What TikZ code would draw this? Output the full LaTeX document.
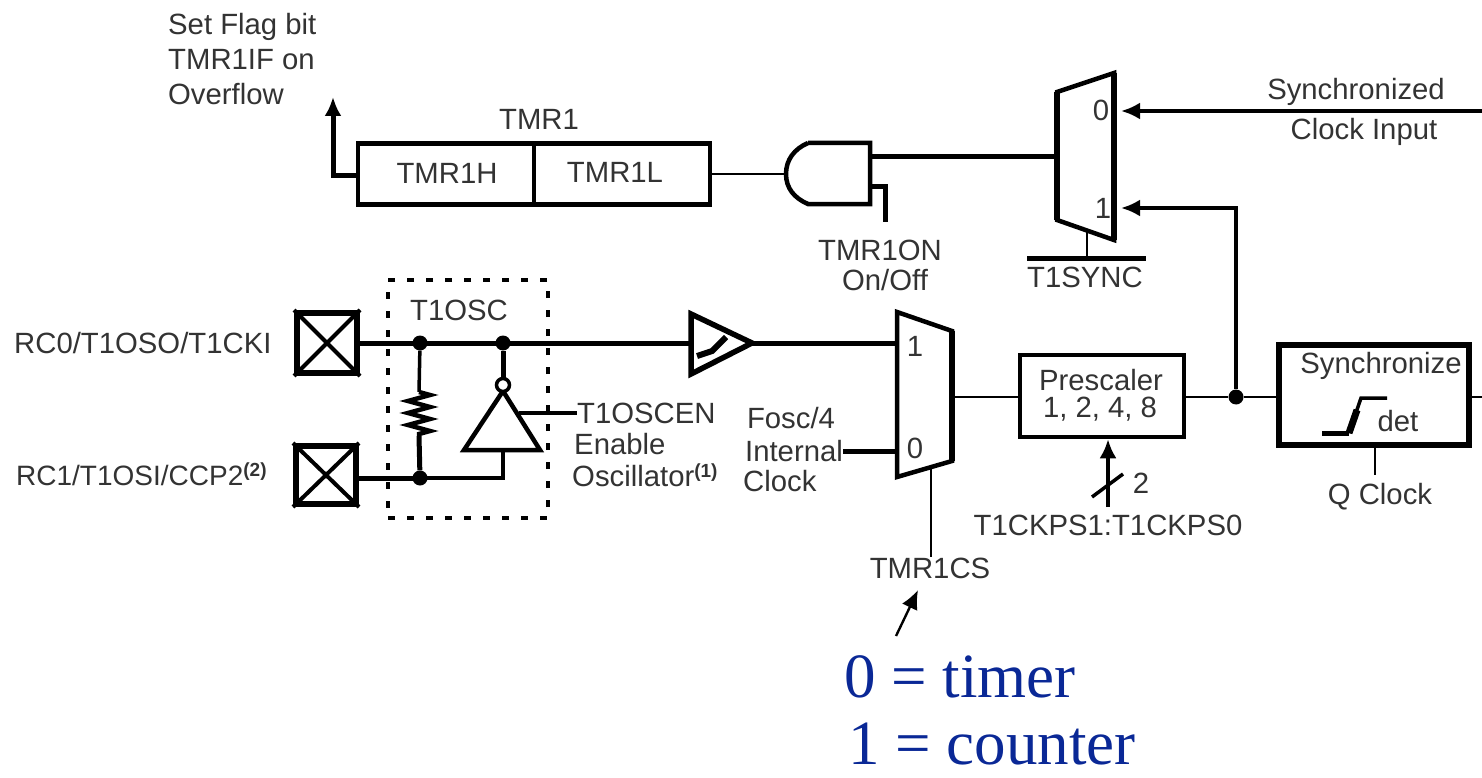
\documentclass[tikz,border=0pt]{standalone}
\usepackage{fontspec}
\setmainfont{Liberation Sans}
\newfontfamily\serifblue{Liberation Serif}
\usetikzlibrary{arrows.meta,decorations.pathmorphing}
\definecolor{labelgray}{gray}{0.2}
\definecolor{noteblue}{RGB}{10,40,150}
\newcommand{\supmark}[1]{\raisebox{9pt}{\fontsize{19}{19}\selectfont\bfseries(#1)}}
\tikzset{
  lbl/.style={inner sep=0pt,text=labelgray,font=\fontsize{29.3}{29.3}\selectfont},
  note/.style={inner sep=0pt,anchor=base west,text=noteblue,font=\serifblue\fontsize{63}{63}\selectfont},
  thick wire/.style={line width=5pt},
  mid wire/.style={line width=3.5pt},
  thin wire/.style={line width=2.4pt},
  boxthick/.style={draw,line width=4.5pt,inner sep=0pt},
  pt/.style={circle,fill=black,inner sep=0pt,minimum size=15pt},
  tip/.style={-{Latex[length=19pt,width=17pt]}}
}
\begin{document}
\begin{tikzpicture}[x=1pt,y=-1pt]
\useasboundingbox (0,0) rectangle (1482,778);
% pads
\node[boxthick,line width=6pt,minimum width=60pt,minimum height=60pt] (pad0) at (327,343) {};
\node[boxthick,line width=6pt,minimum width=60pt,minimum height=58pt] (pad1) at (326,475) {};
\draw[line width=4pt] (pad0.north west)--(pad0.south east) (pad0.north east)--(pad0.south west);
\draw[line width=4pt] (pad1.north west)--(pad1.south east) (pad1.north east)--(pad1.south west);
\node[lbl,anchor=west] (rc0) at (14,343) {RC0/T1OSO/T1CKI};
\node[lbl,anchor=west,font=\fontsize{28}{28}\selectfont] (rc1) at (16,474) {RC1/T1OSI/CCP2\supmark{2}};
% T1OSC box
\node[draw,line width=3.5pt,dash pattern=on 7pt off 12pt,minimum width=160pt,minimum height=238pt,inner sep=0pt] (osc) at (468,399) {};
\node[lbl] (osct) at (459,310) {T1OSC};
% nodes on wires
\coordinate (d1) at (420,343);
\coordinate (d2) at (503,343);
\coordinate (d3) at (420,478);
\coordinate (binv) at (503,385);
\coordinate (rtop) at (419,392);
\coordinate (rbot) at (419,436);
\coordinate (invin) at (503,451);
\coordinate (invcorner) at (503,478);
% buffer
\coordinate (bufa) at (691,314);
\coordinate (bufb) at (691,374);
\coordinate (bufc) at (752,343);
\draw[line width=5.5pt,line join=miter] (bufa)--(bufc)--(bufb)--cycle;
\coordinate (hya) at (697,356);
\coordinate (hyb) at (712,351);
\coordinate (hyc) at (726,337);
\draw[line width=6pt] (hya)--(hyb)--(hyc);
% mux 1
\coordinate (m1a) at (897,312);
\coordinate (m1b) at (952,331);
\coordinate (m1c) at (952,461);
\coordinate (m1d) at (897,477);
\coordinate (m1in1) at (897,343);
\coordinate (m1in0) at (897,453);
\coordinate (m1out) at (952,397);
\coordinate (m1sel) at (931,467);
\draw[line width=4.5pt,line join=miter] (m1a)--(m1b)--(m1c)--(m1d)--cycle;
\draw[line width=6.5pt] (m1b)--(m1c);
\node[lbl] (m11) at (915,346) {1};
\node[lbl] (m10) at (915,448) {0};
% wires from pads
\draw[thick wire] (pad0.east |- d1)--(bufa |- d1);
\draw[thick wire] (bufc)--(m1in1);
\draw[thick wire] (pad1.east |- d3)--(d3);
\draw[mid wire] (d3)--(invcorner)--(invin);
\node[pt] (nd1) at (d1) {};
\node[pt] (nd2) at (d2) {};
\node[pt] (nd3) at (d3) {};
% resistor
\draw[mid wire] (nd1)--(rtop);
\draw[line width=4.5pt,decorate,decoration={zigzag,segment length=12pt,amplitude=11pt}] (rtop)--(rbot);
\draw[thick wire] (rbot)--(nd3);
% inverter
\coordinate (inva) at (503,391);
\coordinate (invb) at (464,450);
\coordinate (invc) at (540,450);
\draw[line width=4.5pt,line join=miter] (inva)--(invc)--(invb)--cycle;
\draw[thick wire] (nd2)--(binv);
\node[draw,fill=white,circle,line width=3.5pt,minimum size=13pt,inner sep=0pt] (bub) at (binv) {};
\coordinate (enin) at (519,413);
\node[lbl,anchor=west] (en1) at (577,413) {T1OSCEN};
\node[lbl,anchor=west] (en2) at (574,444) {Enable};
\node[lbl,anchor=west] (en3) at (572,475) {Oscillator\supmark{1}};
\draw[mid wire] (enin)--(en1.west);
% Fosc
\node[lbl] (f1) at (791,418) {Fosc/4};
\node[lbl] (f2) at (794,451) {Internal};
\node[lbl,anchor=west] (f3) at (743,481) {Clock};
\draw[thick wire] (f2.east)--(f2.east -| m1in0);
% sel
\node[lbl] (cs) at (930,568) {TMR1CS};
\draw[thin wire] (m1sel)--(cs.north -| m1sel);
\coordinate (pa) at (896,636);
\coordinate (pb) at (918,590);
\draw[thin wire,tip] (pa)--(pb);
\node[note] (n0) at (844,697) {0 = timer};
\node[note] (n1) at (848,764) {1 = counter};
% prescaler
\node[boxthick,minimum width=164pt,minimum height=82pt] (pre) at (1102,396) {};
\node[lbl] (p1) at (1101,380) {Prescaler};
\node[lbl] (p2) at (1100,409) {1, 2, 4, 8};
\draw[thin wire] (m1out)--(pre.west |- m1out);
% prescale arrow
\coordinate (pc) at (1108,507);
\draw[mid wire,tip] (pc)--(pre.south -| pc);
\coordinate (sa) at (1092,497);
\coordinate (sb) at (1123,474);
\draw[mid wire] (sa)--(sb);
\node[lbl] (two) at (1141,483) {2};
\node[lbl] (cps) at (1108,525) {T1CKPS1:T1CKPS0};
% synchronize
\node[boxthick,line width=5.5pt,minimum width=190pt,minimum height=100pt] (syn) at (1374,395) {};
\node[lbl] (s1) at (1381,366) {Synchronize};
\node[lbl] (s2) at (1398,421) {det};
\coordinate (wa) at (1322,433);
\coordinate (wb) at (1349,433);
\coordinate (wc) at (1361,398);
\coordinate (wd) at (1387,398);
\coordinate (wm) at (1357,410);
\draw[mid wire] (wb)--(wc)--(wd);
\draw[line width=7pt] (wb)--(wm);
\draw[line width=5pt] (wa)--(wb);
\node[pt] (jn) at (1236,397) {};
\draw[thin wire] (pre.east |- jn)--(jn)--(syn.west |- jn);
\coordinate (rend) at (1482,397);
\draw[thin wire] (syn.east |- rend)--(rend);
\node[lbl] (qc) at (1380,497) {Q Clock};
\coordinate (qs) at (1375,475);
\draw[thin wire] (syn.south -| qs)--(qs);
% TMR1
\node[boxthick,minimum width=176pt,minimum height=61pt] (th) at (446,174) {};
\node[boxthick,minimum width=176pt,minimum height=61pt] (tl) at (622,174) {};
\node[lbl] (thl) at (447,173) {TMR1H};
\node[lbl] (tll) at (615,172) {TMR1L};
\node[lbl] (tm) at (539,119) {TMR1};
\coordinate (fl) at (333,176);
\coordinate (fu) at (333,97);
\draw[thick wire,tip] (th.west |- fl)--(fl)--(fu);
\node[lbl,anchor=west] (sf1) at (168,27) {Set Flag bit};
\node[lbl,anchor=west] (sf2) at (168,60) {TMR1IF on};
\node[lbl,anchor=west] (sf3) at (168,94) {Overflow};
% AND
\coordinate (aa) at (870,143);
\coordinate (ab) at (870,204);
\coordinate (ac) at (808,143);
\coordinate (ad) at (808,204);
\coordinate (ae) at (786,174);
\draw[line width=4.5pt,line join=miter] (ac)--(aa)--(ab)--(ad) .. controls (794,198) and (786,188) .. (ae) .. controls (786,160) and (794,149) .. (ac);
\draw[thin wire] (tl.east |- ae)--(ae);
\coordinate (ao) at (870,157);
\coordinate (on1) at (870,187);
\coordinate (on2) at (885,187);
\coordinate (on3) at (885,222);
\draw[thick wire] (on1)--(on2)--(on3);
\node[lbl] (on) at (880,250) {TMR1ON};
\node[lbl] (off) at (885,280) {On/Off};
% mux 2
\coordinate (m2a) at (1057,92);
\coordinate (m2b) at (1114,73);
\coordinate (m2c) at (1114,240);
\coordinate (m2d) at (1057,220);
\draw[line width=4.5pt,line join=miter] (m2a)--(m2b)--(m2c)--(m2d)--cycle;
\draw[line width=6.5pt] (m2a)--(m2d);
\draw[line width=6.5pt] (m2b)--(m2c);
\draw[thick wire] (ao)--(m2a |- ao);
\node[lbl] (m20) at (1101,110) {0};
\node[lbl] (m21) at (1103,208) {1};
\coordinate (i0s) at (1482,111);
\coordinate (i0e) at (1121,111);
\coordinate (i1e) at (1121,208);
\draw[mid wire,tip] (i0s)--(i0e);
\draw[mid wire,tip] (jn)--(jn |- i1e)--(i1e);
\coordinate (ss) at (1087,231);
\coordinate (sy) at (1087,258);
\draw[thin wire] (ss)--(sy);
\coordinate (bl) at (1027,258);
\coordinate (br) at (1146,258);
\draw[thick wire] (bl)--(br);
\node[lbl] (sync) at (1085,277) {T1SYNC};
\node[lbl] (c1) at (1356,92) {Synchronized};
\node[lbl] (c2) at (1364,132) {Clock Input};
\end{tikzpicture}
\end{document}
